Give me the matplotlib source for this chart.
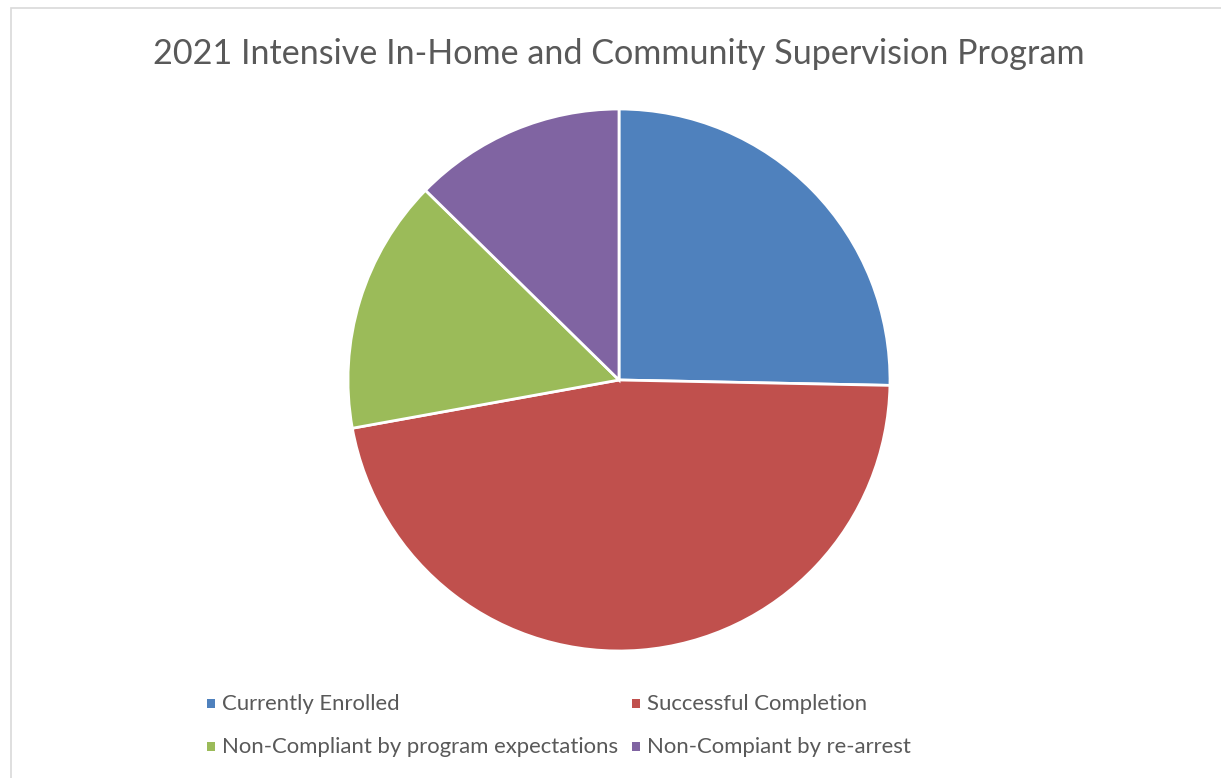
import matplotlib as mpl
mpl.use('Agg')
import matplotlib.pyplot as plt
from matplotlib.patches import Rectangle

TITLE = "2021 Intensive In-Home and Community Supervision Program"
LABELS = ["Currently Enrolled", "Successful Completion",
          "Non-Compliant by program expectations", "Non-Compiant by re-arrest"]
VALUES = [20, 37, 12, 10]
COLORS = ['#4F81BD', '#C0504D', '#9BBB59', '#8064A2']

TEXT_COLOR = '#595959'
FONT = 'Lato'

W, H = 1221, 778
fig = plt.figure(figsize=(W / 100, H / 100), dpi=100)

# chart frame
fig.patches.append(Rectangle((11 / W, -0.1), 1.2, (778 - 8) / H + 0.1,
                             transform=fig.transFigure, fill=False,
                             edgecolor='#D9D9D9', linewidth=1.2))

ax = fig.add_axes([348 / W, (H - 651) / H, 542 / W, 542 / H])
ax.pie(VALUES, colors=COLORS, startangle=90, counterclock=False, radius=1,
       wedgeprops=dict(edgecolor='white', linewidth=2))
ax.set_xlim(-1, 1)
ax.set_ylim(-1, 1)
ax.set_aspect('equal')
ax.axis('off')

fig.text(619 / W, 1 - 54 / H, TITLE, ha='center', va='center',
         fontsize=24.6, color=TEXT_COLOR, family=FONT)

# legend, two columns
col_x = [207, 632]
row_y = [704, 747]
for i, (lab, c) in enumerate(zip(LABELS, COLORS)):
    x = col_x[i % 2]
    y = row_y[i // 2]
    fig.patches.append(Rectangle((x / W, (H - y - 4) / H), 8 / W, 9 / H,
                                 transform=fig.transFigure, facecolor=c,
                                 edgecolor='none'))
    fig.text((x + 15) / W, 1 - y / H, lab, ha='left', va='center',
             fontsize=15.9, color=TEXT_COLOR, family=FONT)

fig.savefig('out.png', dpi=100)
